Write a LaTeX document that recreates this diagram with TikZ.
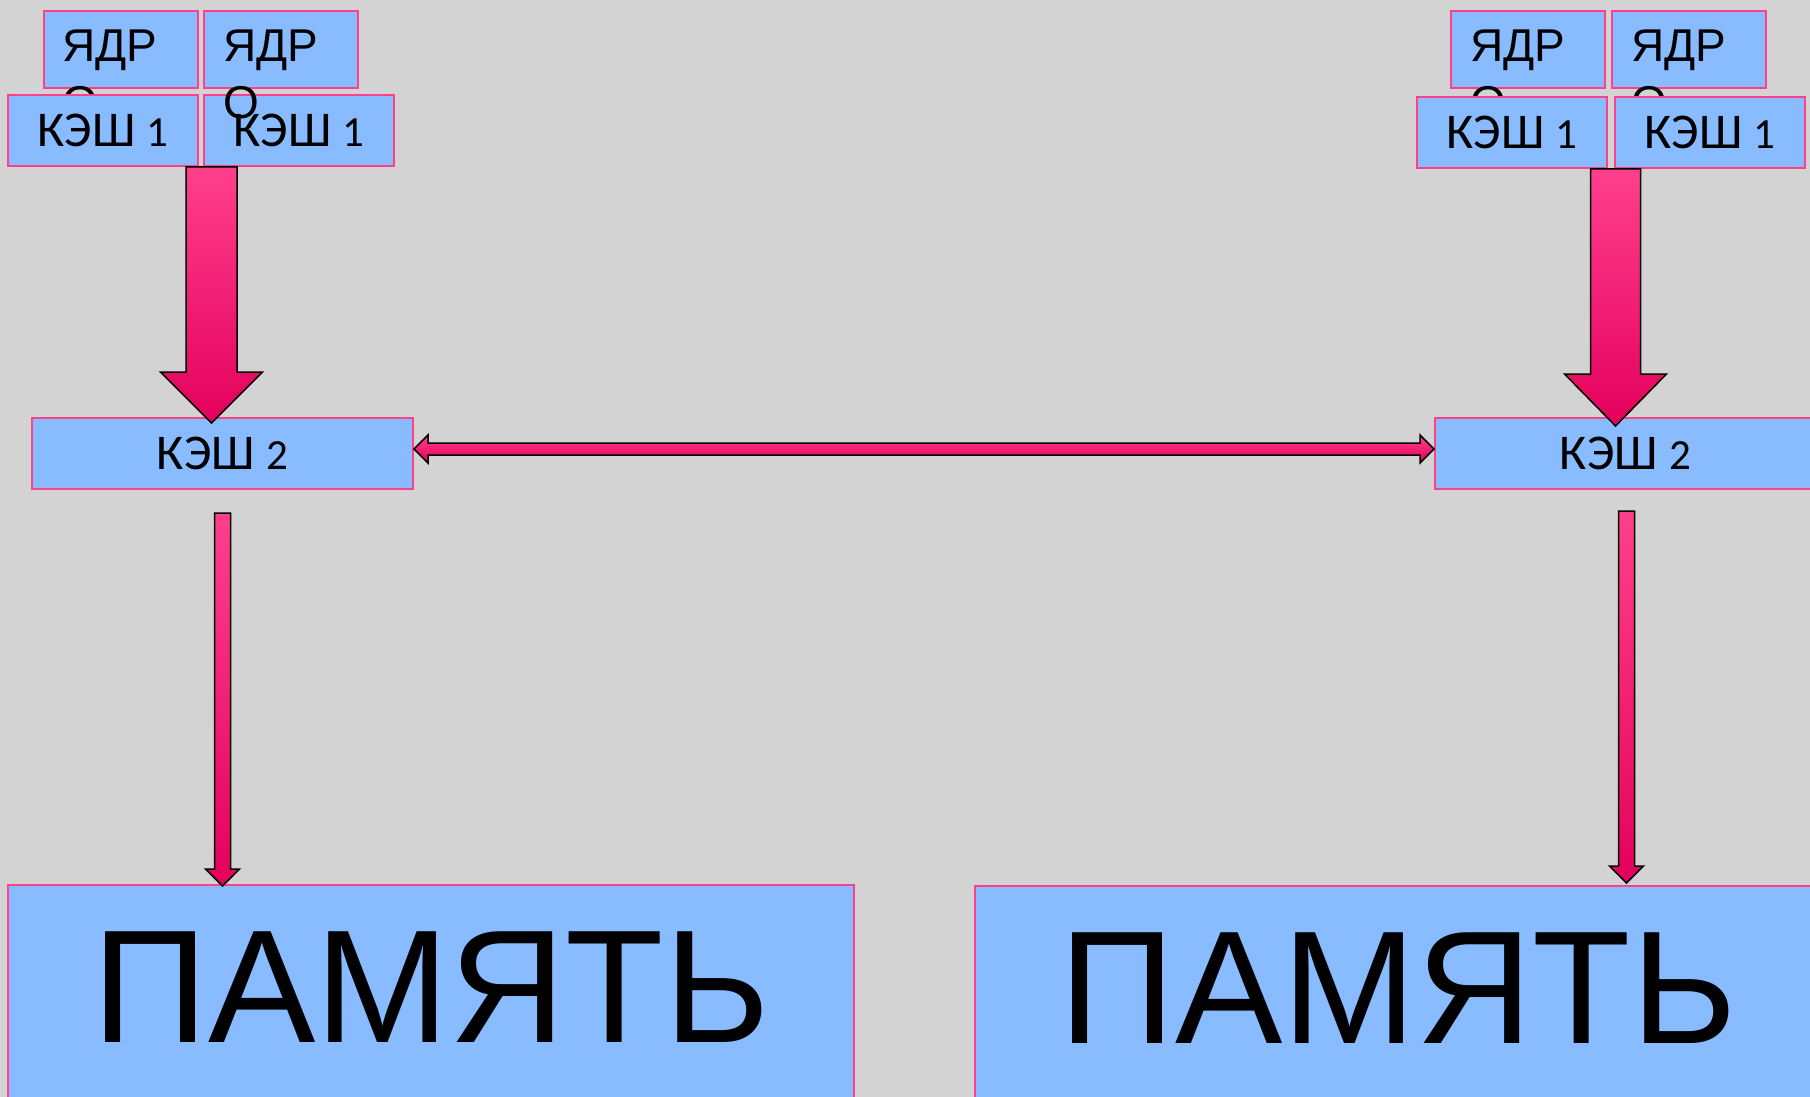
\documentclass[tikz,border=0pt]{standalone}
\usepackage{fontspec}
\setmainfont{Liberation Sans}
\newfontfamily\cachefont{Carlito}
\usetikzlibrary{calc,positioning}
\definecolor{bggray}{RGB}{211,211,211}
\definecolor{boxblue}{RGB}{136,187,255}
\definecolor{pinkline}{RGB}{255,64,140}
\definecolor{arrowtop}{RGB}{255,64,140}
\definecolor{arrowbot}{RGB}{228,0,92}

% vertical block arrow: start, tip, shaft half width, head half width, head length
\newcommand{\blockdown}[5]{%
  \path[arrowshade] let \p1=(#1), \p2=(#2) in
    (\x1-#3pt,\y1) -- (\x1+#3pt,\y1) -- (\x1+#3pt,\y2+#5pt) -- (\x1+#4pt,\y2+#5pt)
    -- (\x1,\y2) -- (\x1-#4pt,\y2+#5pt) -- (\x1-#3pt,\y2+#5pt) -- cycle;}

\begin{document}
\begin{tikzpicture}[x=1pt,y=-1pt,
  anybox/.style={draw=pinkline,fill=boxblue,line width=2pt,inner sep=0pt,anchor=north west},
  corebox/.style={anybox,minimum width=154,minimum height=77},
  cachebox/.style={anybox,minimum width=190,minimum height=71,font=\cachefont\fontsize{50}{60}\selectfont},
  ltwobox/.style={anybox,minimum width=381,minimum height=71,font=\cachefont\fontsize{50}{60}\selectfont},
  membox/.style={anybox,minimum width=846,text height=157,text depth=79,font=\fontsize{161}{190}\selectfont},
  coretxt/.style={anchor=north west,inner sep=0pt,align=left,font=\fontsize{46}{57}\selectfont},
  arrowshade/.style={top color=arrowtop,bottom color=arrowbot,draw=black,line width=1.5pt,line join=miter}]
  \useasboundingbox (0,0) rectangle (1810,1097);
  \clip (0,0) rectangle (1810,1097);
  \fill[bggray] (0,0) rectangle (1810,1097);

  % cores
  \node[corebox] (coreA) at (43,10) {};
  \node[coretxt] (coreAt) at ([xshift=19pt,yshift=-20pt]coreA.north west) {ЯДР\\О};
  \node[corebox] (coreB) at (203,10) {};
  \node[corebox] (coreC) at (1450,10) {};
  \node[coretxt] (coreCt) at ([xshift=20pt,yshift=-20pt]coreC.north west) {ЯДР\\О};
  \node[corebox] (coreD) at (1611,10) {};
  \node[coretxt] (coreDt) at ([xshift=20pt,yshift=-20pt]coreD.north west) {ЯДР\\О};

  % first level caches
  \node[cachebox] (cacheA) at (7,94) {КЭШ {\fontsize{43}{48}\selectfont 1}};
  \node[cachebox] (cacheB) at (203,94) {КЭШ {\fontsize{43}{48}\selectfont 1}};
  \node[cachebox] (cacheC) at (1416,96) {КЭШ {\fontsize{43}{48}\selectfont 1}};
  \node[cachebox] (cacheD) at (1614,96) {КЭШ {\fontsize{43}{48}\selectfont 1}};
  \node[coretxt] (coreBt) at ([xshift=20pt,yshift=-20pt]coreB.north west) {ЯДР\\О};

  % second level caches and memory
  \node[ltwobox] (ltwoL) at (31,417) {КЭШ {\fontsize{43}{48}\selectfont 2}};
  \node[ltwobox] (ltwoR) at (1434,417) {КЭШ {\fontsize{43}{48}\selectfont 2}};
  \node[membox] (memL) at (7,884) {ПАМЯТЬ};
  \node[membox] (memR) at (974,885) {ПАМЯТЬ};

  % arrows
  \coordinate (bigAtip) at ([xshift=-11pt,yshift=-6pt]ltwoL.north);
  \coordinate (bigAs) at (bigAtip |- cacheA.south);
  \blockdown{bigAs}{bigAtip}{25.5}{51}{51}
  \coordinate (bigBtip) at ([xshift=-10pt,yshift=-9pt]ltwoR.north);
  \coordinate (bigBs) at (bigBtip |- cacheC.south);
  \blockdown{bigBs}{bigBtip}{25}{51}{52}

  \coordinate (thinAs) at ([yshift=-23pt]ltwoL.south);
  \coordinate (thinAtip) at ([yshift=-2pt]memL.north -| thinAs);
  \blockdown{thinAs}{thinAtip}{8}{17}{17}
  \coordinate (thinBs) at ([xshift=1pt,yshift=-21pt]ltwoR.south);
  \coordinate (thinBtip) at ([yshift=2pt]memR.north -| thinBs);
  \blockdown{thinBs}{thinBtip}{8}{17}{17}

  \coordinate (busL) at ([yshift=4.5pt]ltwoL.east);
  \coordinate (busR) at ([yshift=4.5pt]ltwoR.west);
  \path[arrowshade] let \p1=(busL), \p2=(busR) in
    (\x1,\y1) -- (\x1+14pt,\y1+14pt) -- (\x1+14pt,\y1+6pt) -- (\x2-14pt,\y1+6pt)
    -- (\x2-14pt,\y1+14pt) -- (\x2,\y1) -- (\x2-14pt,\y1-14pt) -- (\x2-14pt,\y1-6pt)
    -- (\x1+14pt,\y1-6pt) -- (\x1+14pt,\y1-14pt) -- cycle;
\end{tikzpicture}
\end{document}
